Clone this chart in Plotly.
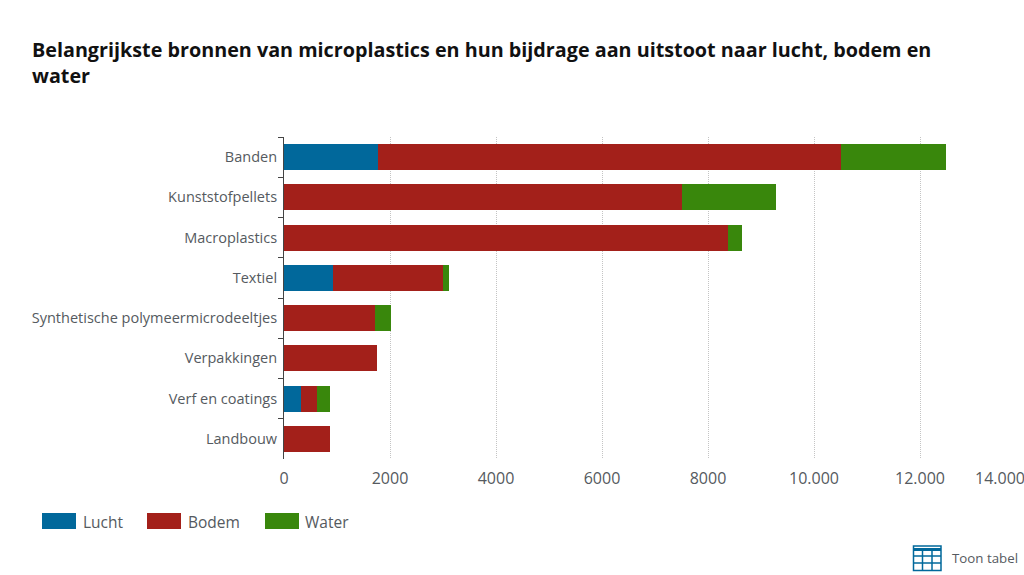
import plotly.graph_objects as go

# waarden
bronnen = ['Banden', 'Kunststofpellets', 'Macroplastics', 'Textiel',
           'Synthetische polymeermicrodeeltjes', 'Verpakkingen',
           'Verf en coatings', 'Landbouw']
lucht = [1780, 0, 0, 920, 0, 0, 320, 0]
bodem = [8730, 7510, 8380, 2080, 1720, 1750, 300, 870]
water = [1980, 1770, 260, 110, 300, 0, 250, 0]

xticks = [0, 2000, 4000, 6000, 8000, 10000, 12000, 14000]
xlabels = ['0', '2000', '4000', '6000', '8000', '10.000', '12.000', '']

BLAUW = '#01689b'
ROOD = '#a3201a'
GROEN = '#39870c'
TEKST = '#555a60'
FONT = 'Open Sans'

# plotgebied in pixels; de as loopt iets voorbij de rand van het venster
W, H = 1060, 575
LEFT, RIGHT, TOP, BOTTOM = 284, 1026, 137, 459


def px(x):
    return (x - LEFT) / (RIGHT - LEFT)


def py(y):
    return (BOTTOM - y) / (BOTTOM - TOP)


fig = go.Figure()
for naam, waarden, kleur in [('Lucht', lucht, BLAUW), ('Bodem', bodem, ROOD), ('Water', water, GROEN)]:
    fig.add_trace(go.Bar(y=bronnen, x=waarden, name=naam, orientation='h',
                         marker=dict(color=kleur, line=dict(width=0))))

fig.update_xaxes(range=[0, 14000], tickmode='array', tickvals=xticks, ticktext=xlabels,
                 showgrid=True, gridcolor='#c4c4c4', griddash='1px,1px', gridwidth=1,
                 zeroline=False, showline=False, ticks='', ticklabelstandoff=8,
                 tickfont=dict(family=FONT, size=16, color=TEKST))
fig.update_yaxes(autorange='reversed', tickson='boundaries', ticks='outside', ticklen=5,
                 tickcolor='#444', showline=True, linecolor='#444', linewidth=1,
                 showgrid=False, ticklabelstandoff=3,
                 tickfont=dict(family=FONT, size=14.5, color=TEKST))

# legenda met brede blokjes, zoals in het origineel
shapes = []
annotations = []
for x0, x1, tx, naam, kleur in [(42, 76, 81, 'Lucht', BLAUW), (147, 181, 186, 'Bodem', ROOD),
                                (265, 299, 303, 'Water', GROEN)]:
    shapes.append(dict(type='rect', xref='paper', yref='paper', x0=px(x0), x1=px(x1),
                       y0=py(529), y1=py(513), fillcolor=kleur, line=dict(width=0)))
    annotations.append(dict(xref='paper', yref='paper', x=px(tx), y=py(522), text=naam,
                            xanchor='left', yanchor='middle', showarrow=False,
                            font=dict(family=FONT, size=15.5, color=TEKST)))

# laatste aslabel schuift naar binnen, net als in het origineel
annotations.append(dict(xref='paper', yref='paper', x=px(973), y=py(478), text='14.000',
                        xanchor='left', yanchor='middle', showarrow=False,
                        font=dict(family=FONT, size=16, color=TEKST)))

# tabel-icoon
shapes.append(dict(type='rect', xref='paper', yref='paper', x0=px(913.5), x1=px(941),
                   y0=py(570.5), y1=py(546), fillcolor='white', line=dict(color=BLAUW, width=1.5)))
shapes.append(dict(type='line', xref='paper', yref='paper', x0=px(913.5), x1=px(941),
                   y0=py(549.5), y1=py(549.5), line=dict(color=BLAUW, width=3)))
for y in [556, 563]:
    shapes.append(dict(type='line', xref='paper', yref='paper', x0=px(913.5), x1=px(941),
                       y0=py(y), y1=py(y), line=dict(color=BLAUW, width=1.5)))
for x in [922.5, 932]:
    shapes.append(dict(type='line', xref='paper', yref='paper', x0=px(x), x1=px(x),
                       y0=py(549), y1=py(570.5), line=dict(color=BLAUW, width=1.5)))
annotations.append(dict(xref='paper', yref='paper', x=px(950), y=py(558), text='Toon tabel',
                        xanchor='left', yanchor='middle', showarrow=False,
                        font=dict(family=FONT, size=13.3, color=TEKST)))

annotations.append(dict(xref='paper', yref='paper', x=px(30), y=py(63), align='left',
                        text='<b>Belangrijkste bronnen van microplastics en hun bijdrage aan uitstoot naar lucht, bodem en<br>water</b>',
                        xanchor='left', yanchor='middle', showarrow=False,
                        font=dict(family=FONT, size=19.75, color='#111111')))

fig.update_layout(barmode='stack', bargap=0.355, width=W, height=H,
                  margin=dict(l=LEFT, r=W - RIGHT, t=TOP, b=H - BOTTOM),
                  paper_bgcolor='white', plot_bgcolor='white', showlegend=False,
                  shapes=shapes, annotations=annotations)

fig.write_html("out.html", config=dict(displayModeBar=False),
               post_script="document.body.style.margin='0';document.body.style.overflow='hidden';")
